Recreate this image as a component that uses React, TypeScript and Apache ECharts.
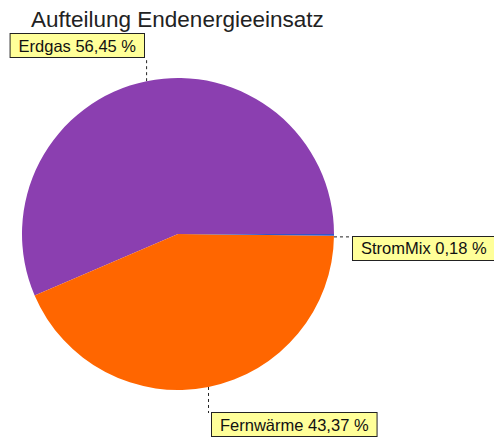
import React, { useEffect, useRef } from "react";
import * as echarts from "echarts";

const title = "Aufteilung Endenergieeinsatz";
const categories = ["Erdgas", "Fernwärme", "StromMix"];
const values = [56.45, 43.37, 0.18];
const colors = ["#8b3fb0", "#ff6600", "#3355cc"];

export default function App() {
  const ref = useRef<HTMLDivElement>(null);
  useEffect(() => {
    document.body.style.margin = "0";
    const chart = echarts.init(ref.current!, null, { renderer: "svg" });
    const fmt = (v: number) => v.toFixed(2).replace(".", ",");
    chart.setOption({
      animation: false,
      title: {
        text: title,
        left: 31,
        top: 8,
        padding: 0,
        textStyle: { fontFamily: "Liberation Sans, Arial, sans-serif", fontSize: 22.5, fontWeight: "normal", color: "#222" },
      },
      series: [
        {
          type: "pie",
          center: [178, 234],
          radius: [0, 156],
          startAngle: 0,
          clockwise: false,
          avoidLabelOverlap: false,
          data: categories.map((c, i) => ({ name: c, value: values[i], itemStyle: { color: colors[i] } })),
          label: {
            show: true,
            formatter: (p: any) => `${p.name} ${fmt(p.value)} %`,
            fontFamily: "Liberation Sans, Arial, sans-serif",
            fontSize: 16.5,
            lineHeight: 17,
            color: "#111",
            backgroundColor: "#ffff99",
            borderColor: "#222",
            borderWidth: 1,
            padding: [3, 8],
          },
          labelLine: {
            show: true,
            lineStyle: { color: "#222", width: 1, type: [3, 3] },
          },
          labelLayout: (p: any) => {
            const s = p.labelLinePoints ? p.labelLinePoints[0] : [0, 0];
            if (p.dataIndex === 0) {
              return { x: 144, y: 57, align: "right", verticalAlign: "bottom", labelLinePoints: [[s[0], s[1]], [s[0], 60], [s[0], 58]] };
            }
            if (p.dataIndex === 1) {
              return { x: 212, y: 413, align: "left", verticalAlign: "top", labelLinePoints: [[s[0], s[1]], [s[0], 410], [s[0], 413]] };
            }
            return { x: 353, y: s[1] + 2, align: "left", verticalAlign: "top", labelLinePoints: [[s[0], s[1] + 2], [345, s[1] + 2], [353, s[1] + 2]] };
          },
        },
      ],
    });
    return () => chart.dispose();
  }, []);
  return <div ref={ref} style={{ width: 494, height: 439 }} />;
}
